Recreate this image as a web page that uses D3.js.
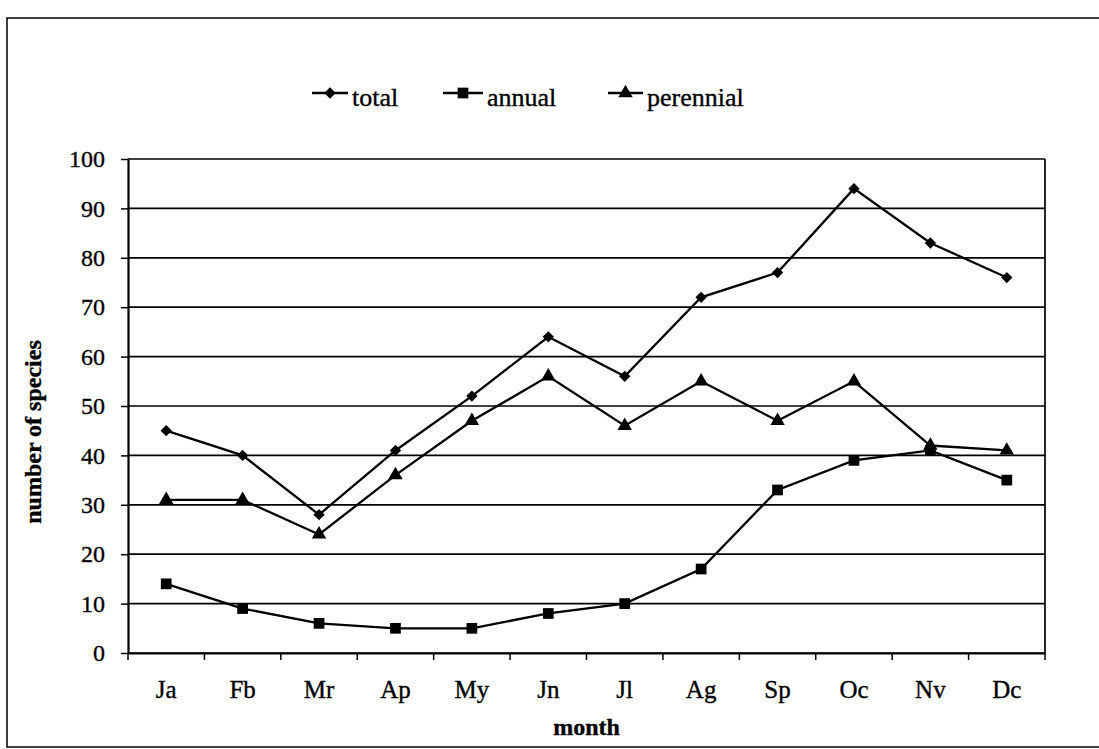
<!DOCTYPE html>
<html>
<head>
<meta charset="utf-8">
<script src="https://cdn.jsdelivr.net/npm/d3@7"></script>
<style>
  body { margin: 0; background: #fff; }
  svg { display: block; font-family: "Liberation Serif", "Times New Roman", serif; }
  text { stroke: #000; stroke-width: 0.35px; }
</style>
</head>
<body>
<svg id="chart" width="1099" height="749"></svg>
<script>
// values
var months = ["Ja", "Fb", "Mr", "Ap", "My", "Jn", "Jl", "Ag", "Sp", "Oc", "Nv", "Dc"]
var total = [45, 40, 28, 41, 52, 64, 56, 72, 77, 94, 83, 76]
var annual = [14, 9, 6, 5, 5, 8, 10, 17, 33, 39, 41, 35]
var perennial = [31, 31, 24, 36, 47, 56, 46, 55, 47, 55, 42, 41]
var yTicks = [0, 10, 20, 30, 40, 50, 60, 70, 80, 90, 100]
var seriesNames = ["total", "annual", "perennial"]

var svg = d3.select('#chart')
var pLeft = 128, pRight = 1045, pTop = 159, pBottom = 653
var serif = '"Liberation Serif", "Times New Roman", serif'

// outer frame of the figure (right side runs off the page)
svg.append('rect')
  .attr('x', 7).attr('y', 18).attr('width', 1100).attr('height', 729)
  .attr('fill', 'none').attr('stroke', '#000').attr('stroke-width', 1.5)

var x = d3.scaleBand().domain(months).range([pLeft, pRight])
var y = d3.scaleLinear().domain([0, 100]).range([pBottom, pTop])
var cx = function(i) { return x(months[i]) + x.bandwidth()/2 }

// gridlines
svg.append('g').selectAll('line').data(yTicks).join('line')
  .attr('x1', pLeft).attr('x2', pRight)
  .attr('y1', function(d) { return y(d) }).attr('y2', function(d) { return y(d) })
  .attr('stroke', '#000').attr('stroke-width', 1.7)

// right edge of plot area
svg.append('line').attr('x1', pRight).attr('x2', pRight).attr('y1', pTop).attr('y2', pBottom)
  .attr('stroke', '#000').attr('stroke-width', 1.7)

// y axis
var ya = svg.append('g').attr('transform', 'translate(' + pLeft + ',0)')
  .call(d3.axisLeft(y).tickValues(yTicks).tickSize(7).tickSizeOuter(0).tickPadding(16))
ya.attr('font-family', serif)
ya.select('.domain').attr('stroke-width', 2.2)
ya.selectAll('.tick line').attr('stroke-width', 1.5)
ya.selectAll('text').attr('font-size', 24).attr('fill', '#000')

// x axis: labels centred in bands, ticks on band edges
var xa = svg.append('g').attr('transform', 'translate(0,' + pBottom + ')')
  .call(d3.axisBottom(x).tickSize(0).tickSizeOuter(0))
xa.attr('font-family', serif)
xa.select('.domain').attr('stroke-width', 2.2)
xa.selectAll('text').attr('y', 45).attr('dy', 0).attr('font-size', 25).attr('fill', '#000')
var edges = months.map(function(m) { return x(m) }).concat([pRight])
xa.selectAll('.edge').data(edges).join('line').attr('class', 'edge')
  .attr('x1', function(d) { return d }).attr('x2', function(d) { return d })
  .attr('y1', 0).attr('y2', 7).attr('stroke', '#000').attr('stroke-width', 1.5)

// axis titles
svg.append('text').attr('x', (pLeft + pRight)/2).attr('y', 735)
  .attr('text-anchor', 'middle').attr('font-size', 24).attr('font-weight', 'bold').text('month')
svg.append('text').attr('transform', 'translate(41,' + 432 + ') rotate(-90)')
  .attr('text-anchor', 'middle').attr('font-size', 24).attr('font-weight', 'bold').text('number of species')

// marker shapes
var shapes = {
  total: { sym: d3.symbol(d3.symbolSquare, 64), rot: 45 },
  annual: { sym: d3.symbol(d3.symbolSquare, 115), rot: 0 },
  perennial: { sym: d3.symbol(d3.symbolTriangle, 90), rot: 0 }
}
var data = { total: total, annual: annual, perennial: perennial }

var line = d3.line().x(function(d, i) { return cx(i) }).y(function(d) { return y(d) })

seriesNames.forEach(function(name) {
  var vals = data[name]
  svg.append('path').datum(vals).attr('d', line)
    .attr('fill', 'none').attr('stroke', '#000').attr('stroke-width', 2.3)
  svg.append('g').selectAll('path').data(vals).join('path')
    .attr('d', shapes[name].sym)
    .attr('transform', function(d, i) {
      return 'translate(' + cx(i) + ',' + y(d) + ') rotate(' + shapes[name].rot + ')'
    })
    .attr('fill', '#000')
})

// legend
var legendX = [312, 443, 608]
var legendW = [36, 40, 35]
var ly = 93
seriesNames.forEach(function(name, i) {
  var g = svg.append('g')
  g.append('line').attr('x1', legendX[i]).attr('x2', legendX[i] + legendW[i])
    .attr('y1', ly).attr('y2', ly).attr('stroke', '#000').attr('stroke-width', 2.3)
  g.append('path').attr('d', shapes[name].sym)
    .attr('transform', 'translate(' + (legendX[i] + legendW[i]/2) + ',' + ly + ') rotate(' + shapes[name].rot + ')')
  g.append('text').attr('x', legendX[i] + legendW[i] + 4).attr('y', 106)
    .attr('font-size', 26).text(name)
})
</script>
</body>
</html>
